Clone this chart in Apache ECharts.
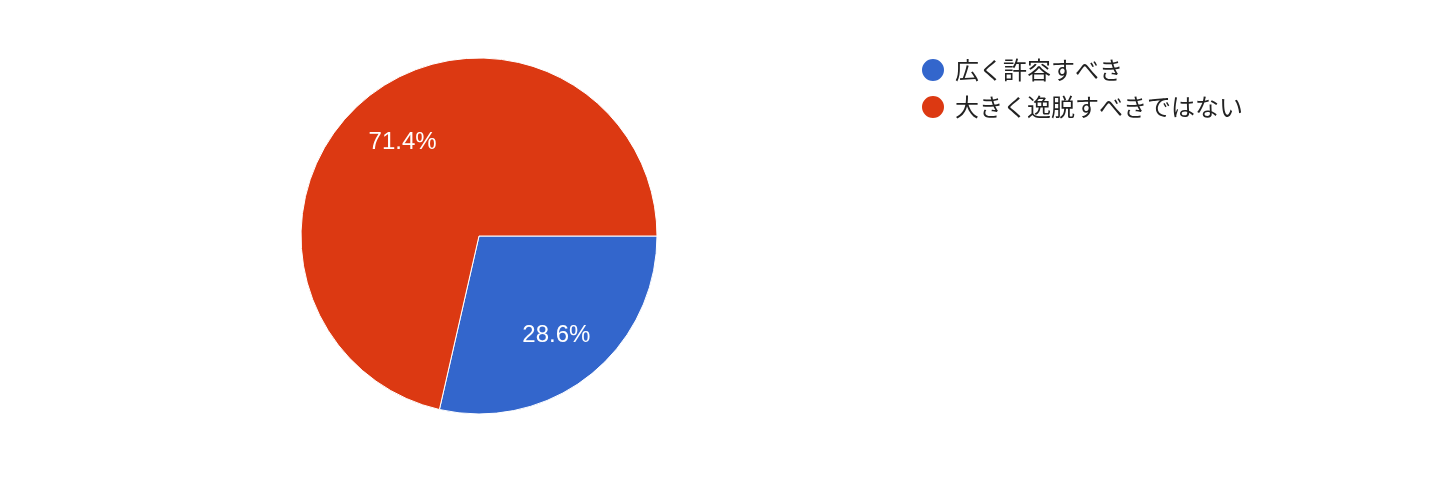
<!DOCTYPE html>
<html><head><meta charset="utf-8">
<script src="https://cdn.jsdelivr.net/npm/echarts@6/dist/echarts.min.js"></script>
<style>html,body{margin:0;padding:0;background:#fff}#c{width:1456px;height:483px}</style>
</head><body><div id="c"></div>
<script>
const categories = ['広く許容すべき', '大きく逸脱すべきではない'];
const values = [2, 5];
const colors = ['#3366cc', '#dc3912'];
const labelOffsets = [[20, 27], [-19, -22]];

const chart = echarts.init(document.getElementById('c'));
chart.setOption({
  animation: false,
  legend: {
    orient: 'vertical', left: 915, top: 52,
    icon: 'circle', itemWidth: 24, itemHeight: 24, itemGap: 11,
    textStyle: {fontFamily: '"Noto Sans CJK JP", sans-serif', fontSize: 24, color: '#222', padding: [0,0,0,5]},
    data: categories
  },
  series: [{
    type: 'pie', center: [479, 236], radius: 178, startAngle: 0, clockwise: true,
    itemStyle: {borderColor: '#fff', borderWidth: 1},
    label: {position: 'inside', formatter: p => p.percent.toFixed(1) + '%',
      color: '#fff', fontSize: 24, fontFamily: '"Liberation Sans", Arial, sans-serif'},
    labelLine: {show: false},
    emphasis: {disabled: true},
    data: categories.map((n, i) => ({name: n, value: values[i], itemStyle: {color: colors[i]},
      label: {offset: labelOffsets[i]}}))
  }]
});
</script></body></html>
